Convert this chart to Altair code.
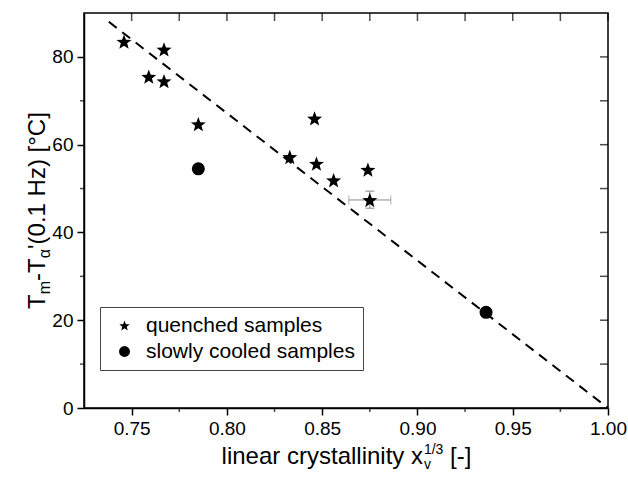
import math
import altair as alt
import pandas as pd

# Measured points: quenched samples (stars) and slowly cooled samples (circles)
quenched_x = [0.746, 0.767, 0.759, 0.767, 0.785, 0.833, 0.846, 0.847, 0.856, 0.874, 0.875]
quenched_y = [83.5, 81.7, 75.5, 74.5, 64.7, 57.2, 66.0, 55.7, 51.9, 54.3, 47.4]
cooled_x = [0.785, 0.936]
cooled_y = [54.5, 21.8]

# Uncertainty of the last quenched sample
err_x_lo = [0.864]
err_x_hi = [0.886]
err_x_at = [47.4]
err_y_lo = [45.5]
err_y_hi = [49.4]
err_y_at = [0.875]

# Linear trend line
fit_x = [0.738, 1.0]
fit_y = [88.0, 0.0]

x_major_ticks = [0.75, 0.8, 0.85, 0.9, 0.95, 1.0]
x_minor_ticks = [0.775, 0.825, 0.875, 0.925, 0.975]
y_major_ticks = [0, 20, 40, 60, 80]
y_minor_ticks = [10, 30, 50, 70]

legend_labels = ["quenched samples", "slowly cooled samples"]

W, H = 524, 395
FONT = "Liberation Sans"


def star_path(inner=0.42):
    """Five-pointed star as a symbol path in the unit square [-1, 1]."""
    pts = []
    for k in range(10):
        r = 1.0 if k % 2 == 0 else inner
        a = math.radians(-90 + 36 * k)
        pts.append(f"{r * math.cos(a):.3f},{r * math.sin(a) + 0.1:.3f}")
    return "M" + "L".join(pts) + "Z"


STAR = star_path()

x_scale = alt.Scale(domain=[0.725, 1.0], nice=False, zero=False)
y_scale = alt.Scale(domain=[0, 90], nice=False, zero=False)

common_axis = dict(grid=False, title=None, domainColor="black", domainWidth=1.5,
                   tickColor="black", tickWidth=1.5, tickSize=7, labelFont=FONT,
                   labelFontSize=19, labelColor="black", labelOverlap=False, labelPadding=4)

bottom_axis = alt.Axis(orient="bottom", values=x_major_ticks, format=".2f",
                       labelFlush=False, **common_axis)
left_axis = alt.Axis(orient="left", values=y_major_ticks, format="d", **common_axis)

shape_scale = alt.Scale(domain=legend_labels, range=[STAR, "circle"])

stars = pd.DataFrame({"x": quenched_x, "y": quenched_y,
                      "kind": [legend_labels[0]] * len(quenched_x)})
circles = pd.DataFrame({"x": cooled_x, "y": cooled_y,
                        "kind": [legend_labels[1]] * len(cooled_x)})

legend = alt.Legend(title=None, orient="none", legendX=16, legendY=294,
                    strokeColor="#444", fillColor="white", padding=8, rowPadding=4,
                    labelFont=FONT, labelFontSize=21, labelColor="black", labelLimit=0,
                    symbolSize=120, symbolFillColor="black", symbolStrokeColor="black",
                    symbolOffset=6, labelOffset=11)

fit = pd.DataFrame({"x": fit_x, "y": fit_y})
fit_layer = alt.Chart(fit).mark_line(color="black", strokeWidth=2, strokeDash=[10, 7]).encode(
    x=alt.X("x:Q", scale=x_scale, axis=bottom_axis),
    y=alt.Y("y:Q", scale=y_scale, axis=left_axis),
)

ERR = "#8c8c8c"
eh = pd.DataFrame({"x": err_x_lo, "x2": err_x_hi, "y": err_x_at})
eh_rule = alt.Chart(eh).mark_rule(color=ERR, strokeWidth=1).encode(
    x=alt.X("x:Q", scale=x_scale), x2="x2:Q",
    y=alt.Y("y:Q", scale=y_scale),
)
eh_caps = alt.Chart(pd.DataFrame({"x": err_x_lo + err_x_hi, "y": err_x_at * 2})).mark_tick(
    color=ERR, orient="vertical", size=9, thickness=1).encode(
    x=alt.X("x:Q", scale=x_scale),
    y=alt.Y("y:Q", scale=y_scale),
)
ev = pd.DataFrame({"x": err_y_at, "y": err_y_lo, "y2": err_y_hi})
ev_rule = alt.Chart(ev).mark_rule(color=ERR, strokeWidth=1).encode(
    x=alt.X("x:Q", scale=x_scale),
    y=alt.Y("y:Q", scale=y_scale), y2="y2:Q",
)
ev_caps = alt.Chart(pd.DataFrame({"x": err_y_at * 2, "y": err_y_lo + err_y_hi})).mark_tick(
    color=ERR, orient="horizontal", size=9, thickness=1.5).encode(
    x=alt.X("x:Q", scale=x_scale),
    y=alt.Y("y:Q", scale=y_scale),
)

star_layer = alt.Chart(stars).mark_point(filled=True, opacity=1, color="black", size=250).encode(
    x=alt.X("x:Q", scale=x_scale),
    y=alt.Y("y:Q", scale=y_scale),
    shape=alt.Shape("kind:N", scale=shape_scale, legend=legend),
)
circle_layer = alt.Chart(circles).mark_point(filled=True, opacity=1, color="black", size=170).encode(
    x=alt.X("x:Q", scale=x_scale),
    y=alt.Y("y:Q", scale=y_scale),
    shape=alt.Shape("kind:N", scale=shape_scale, legend=legend),
)

# Short outward minor ticks, and mirrored inward ticks along the top and right edges
all_x_ticks = sorted(x_major_ticks + x_minor_ticks)
all_y_ticks = sorted(y_major_ticks + y_minor_ticks)
tick_style = dict(color="black", thickness=1.5)
minor_bottom = alt.Chart(pd.DataFrame({"x": x_minor_ticks})).mark_tick(
    orient="vertical", size=4, **tick_style).encode(
    x=alt.X("x:Q", scale=x_scale), y=alt.value(H + 2))
minor_left = alt.Chart(pd.DataFrame({"y": y_minor_ticks})).mark_tick(
    orient="horizontal", size=4, **tick_style).encode(
    y=alt.Y("y:Q", scale=y_scale), x=alt.value(-2))
top_ticks = alt.Chart(pd.DataFrame({"x": all_x_ticks})).mark_tick(
    orient="vertical", size=8, **tick_style).encode(
    x=alt.X("x:Q", scale=x_scale), y=alt.value(4))
right_ticks = alt.Chart(pd.DataFrame({"y": all_y_ticks})).mark_tick(
    orient="horizontal", size=8, **tick_style).encode(
    y=alt.Y("y:Q", scale=y_scale), x=alt.value(W - 4))

# Axis titles with sub- and superscripts, assembled from text pieces
ARIAL = {" ": 278, "l": 222, "i": 222, "n": 556, "e": 556, "a": 556, "r": 333, "c": 500,
         "y": 500, "s": 500, "t": 278, "x": 500, "v": 500, "1": 556, "/": 278, "3": 556,
         "[": 278, "-": 333, "]": 278, "T": 611, "m": 833, "α": 578, "'": 191, "(": 333,
         "0": 556, ".": 278, "H": 722, "z": 500, ")": 333, "°": 400, "C": 722}


def tw(s, size):
    return sum(ARIAL.get(ch, 556) for ch in s) * size / 1000.0


def piece(text, x, y, size, angle=0):
    return alt.Chart(pd.DataFrame({"label": [text]})).mark_text(
        font=FONT, fontSize=size, color="black", align="left", baseline="alphabetic",
        angle=angle).encode(x=alt.value(round(x, 1)), y=alt.value(round(y, 1)), text="label:N")


BIG, SMALL = 24, 14
x_main = "linear crystallinity x"
x_tail = "[-]"
gap = tw(" ", BIG)
x_total = tw(x_main, BIG) + tw("1/3", SMALL) + gap + tw(x_tail, BIG)
x0 = W / 2 - x_total / 2
xb = H + 56
xs = x0 + tw(x_main, BIG) + 1
x_title = [
    piece(x_main, x0, xb, BIG),
    piece("1/3", xs, xb - 10, SMALL),
    piece("v", xs, xb + 5, SMALL),
    piece(x_tail, xs + tw("1/3", SMALL) + gap, xb, BIG),
]

SUB = 16
y_parts = [("T", BIG, 0), ("m", SUB, 5), ("-T", BIG, 0), ("α", SUB, 5), ("'", BIG, 0),
           ("(0.1 Hz)", BIG, 0), ("[°C]", BIG, 0)]
y_total = sum(tw(t, s) for t, s, _ in y_parts) + gap
yb = -39
pos = H / 2 + y_total / 2
y_title = []
for t, s, shift in y_parts:
    y_title.append(piece(t, yb + shift, pos, s, angle=270))
    pos -= tw(t, s)
    if t == "(0.1 Hz)":
        pos -= gap

chart = alt.layer(
    fit_layer, eh_rule, eh_caps, ev_rule, ev_caps, star_layer, circle_layer,
    minor_bottom, minor_left, top_ticks, right_ticks, *x_title, *y_title,
).properties(
    width=W, height=H,
    autosize=alt.AutoSizeParams(type="none"),
    padding={"left": 84, "top": 13, "right": 20, "bottom": 71},
    background="white",
).configure_view(stroke="black", strokeWidth=1.5)

chart.save("out.html", embed_options={"renderer": "svg", "actions": False})
